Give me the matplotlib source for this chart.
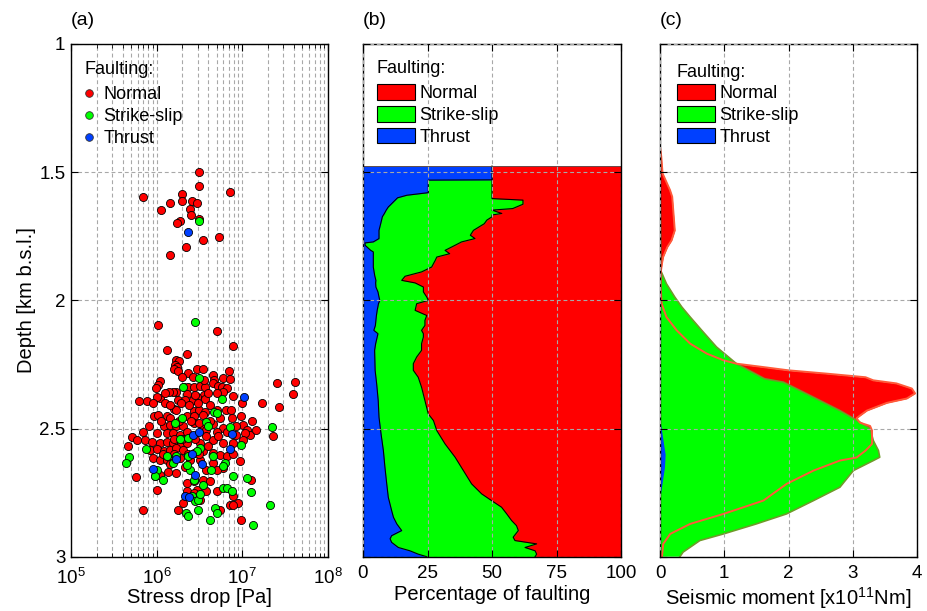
import numpy as np
import matplotlib
matplotlib.use("Agg")
import matplotlib.pyplot as plt
from matplotlib.lines import Line2D
from matplotlib.patches import Patch
from matplotlib.ticker import LogLocator, NullFormatter

plt.rcParams['font.family'] = ['Liberation Sans', 'DejaVu Sans']
plt.rcParams['mathtext.fontset'] = 'custom'
plt.rcParams['mathtext.rm'] = 'Liberation Sans'
plt.rcParams['mathtext.it'] = 'Liberation Sans'

RED = '#ff0000'
GREEN = '#00ff00'
BLUE = '#0040ff'

# ---------------- Panel (a): stress drop (log10 Pa) vs depth (km) ----------------
normal_logsd = [6.50, 6.50, 6.86, 5.84, 6.29, 6.29, 6.16, 6.41, 6.47, 6.05, 6.39, 6.40, 6.50, 6.27, 6.24,
                6.16, 6.34, 6.54, 6.73,
                6.01, 6.70, 6.89, 6.12, 6.35, 6.22, 6.26, 6.21, 6.24, 6.20, 6.25, 6.36, 6.47, 6.54, 6.66,
                6.67, 6.78, 6.84, 6.86, 6.04, 6.01, 5.99, 6.32, 6.37, 6.44, 6.51, 6.57, 6.66, 6.72, 6.76,
                6.82, 6.89, 6.78, 6.70, 6.55, 6.47, 6.35, 6.23, 6.19, 6.14, 6.04, 6.00, 5.89, 5.96, 5.79,
                6.25, 6.33, 6.42, 6.57, 7.00, 7.23, 7.40, 7.61, 7.59, 7.43, 6.20, 6.23, 6.44, 6.49, 6.57,
                6.70, 6.81, 6.87, 5.97, 6.02, 6.12, 6.16, 6.35, 6.43, 6.54, 6.74, 6.88, 6.99, 7.11, 7.01,
                7.05, 7.09, 7.16, 5.91, 6.08, 6.16, 6.23, 6.31, 6.43, 6.54, 6.66, 6.78, 6.93, 7.03, 5.84,
                6.00, 6.12, 6.19, 6.27, 6.35, 6.58, 6.70, 6.82, 6.93, 7.36, 5.71, 5.77, 5.67, 5.86, 5.94,
                6.04, 6.12, 6.19, 6.27, 6.35, 6.51, 6.66, 6.78, 6.89, 7.01, 5.92, 6.00, 6.08, 6.16, 6.23,
                6.31, 6.43, 6.54, 6.66, 6.74, 6.82, 6.89, 6.97, 5.96, 6.04, 6.12, 6.27, 6.39, 6.51, 6.66,
                6.78, 5.76, 5.98, 6.04, 6.13, 6.23, 6.35, 6.43, 6.54, 6.62, 6.00, 6.35, 6.47, 6.58, 6.70,
                6.89, 6.95, 6.86, 5.84, 6.25, 6.74, 7.10, 6.99, 6.43, 6.51,
                6.10, 6.15, 6.28, 6.38, 6.48, 6.62, 6.05, 6.26, 6.40, 6.50, 6.62, 6.20, 6.30, 6.45, 6.58,
                6.72, 6.07, 6.20, 6.36, 6.50, 6.60, 6.15, 6.33, 6.58, 6.70, 6.31, 6.89, 6.45, 6.60, 6.10,
                6.30, 6.42, 6.55]
normal_depth = [1.500, 1.552, 1.577, 1.596, 1.585, 1.613, 1.621, 1.612, 1.621, 1.648, 1.645, 1.668, 1.681, 1.690, 1.700,
                1.824, 1.793, 1.766, 1.754,
                2.098, 2.119, 2.177, 2.192, 2.210, 2.233, 2.236, 2.253, 2.259, 2.268, 2.276, 2.285, 2.269, 2.269, 2.291,
                2.311, 2.301, 2.275, 2.306, 2.315, 2.330, 2.343, 2.337, 2.339, 2.337, 2.334, 2.339, 2.324, 2.334, 2.339,
                2.343, 2.373, 2.356, 2.363, 2.369, 2.376, 2.365, 2.356, 2.356, 2.358, 2.382, 2.376, 2.391, 2.399, 2.392,
                2.389, 2.389, 2.389, 2.386, 2.402, 2.402, 2.324, 2.320, 2.367, 2.417, 2.422, 2.427, 2.430, 2.427, 2.434,
                2.427, 2.427, 2.427, 2.451, 2.447, 2.453, 2.460, 2.453, 2.453, 2.447, 2.460, 2.460, 2.453, 2.469, 2.486,
                2.505, 2.525, 2.505, 2.492, 2.492, 2.486, 2.492, 2.492, 2.479, 2.492, 2.482, 2.499, 2.492, 2.518, 2.512,
                2.518, 2.518, 2.518, 2.525, 2.512, 2.505, 2.512, 2.512, 2.525, 2.528, 2.534, 2.544, 2.570, 2.544, 2.551,
                2.557, 2.551, 2.557, 2.570, 2.557, 2.557, 2.544, 2.557, 2.557, 2.544, 2.583, 2.580, 2.589, 2.583, 2.576,
                2.583, 2.596, 2.589, 2.596, 2.602, 2.609, 2.598, 2.628, 2.615, 2.622, 2.622, 2.615, 2.622, 2.622, 2.635,
                2.654, 2.689, 2.687, 2.680, 2.671, 2.674, 2.712, 2.706, 2.699, 2.706, 2.738, 2.745, 2.738, 2.745, 2.745,
                2.764, 2.790, 2.797, 2.819, 2.819, 2.819, 2.702, 2.855, 2.751, 2.777,
                2.400, 2.410, 2.400, 2.410, 2.400, 2.410, 2.470, 2.470, 2.470, 2.480, 2.470, 2.540, 2.540, 2.540, 2.530,
                2.530, 2.600, 2.600, 2.600, 2.600, 2.570, 2.640, 2.650, 2.660, 2.660, 2.790, 2.800, 2.370, 2.360, 2.360,
                2.300, 2.300, 2.310]

strike_logsd = [6.50, 6.45, 6.50, 6.31, 6.76, 6.67, 6.70, 6.29, 6.21, 6.58, 6.60, 6.86, 7.35, 6.99, 6.37,
                6.27, 6.51, 6.47, 6.23, 6.37, 6.66, 6.80, 5.88, 5.68, 5.64, 6.00, 5.98, 6.07, 6.39, 6.43,
                6.54, 6.64, 6.78, 6.89, 6.78, 6.82, 6.88, 7.10, 7.32, 7.13, 6.34, 6.36, 6.48, 6.62, 6.68,
                6.70, 6.41, 6.45, 6.48, 6.51, 6.19, 6.12, 6.35, 7.05]
strike_depth = [1.691, 2.084, 2.301, 2.339, 2.385, 2.434, 2.440, 2.460, 2.477, 2.473, 2.492, 2.494, 2.496, 2.565, 2.538,
                2.541, 2.576, 2.589, 2.609, 2.609, 2.609, 2.635, 2.579, 2.611, 2.635, 2.661, 2.684, 2.699, 2.661, 2.699,
                2.719, 2.661, 2.648, 2.687, 2.732, 2.732, 2.745, 2.747, 2.797, 2.876, 2.829, 2.842, 2.819, 2.856, 2.810,
                2.829, 2.762, 2.784, 2.777, 2.755, 2.635, 2.609, 2.641, 2.693]

thrust_logsd = [6.37, 7.02, 6.42, 6.49, 6.88, 6.86, 6.41, 6.53, 6.22, 5.96, 6.45, 6.33, 6.38]
thrust_depth = [1.734, 2.378, 2.525, 2.514, 2.522, 2.579, 2.598, 2.639, 2.619, 2.658, 2.680, 2.764, 2.767]

# ---------------- Panel (b): percentage of faulting vs depth ----------------
# thrust percentage boundary
thr_depth = [1.477, 1.530, 1.531, 1.580, 1.590, 1.600, 1.636, 1.648, 1.661, 1.674, 1.687, 1.727, 1.759, 1.772,
             1.776, 1.785, 1.805, 1.811, 1.844, 1.870, 1.889, 1.906, 1.922, 1.932, 1.948, 1.967, 1.987, 2.000,
             2.013, 2.039, 2.059, 2.078, 2.098, 2.117, 2.130, 2.143, 2.169, 2.195, 2.273, 2.326, 2.391, 2.456,
             2.521, 2.586, 2.651, 2.716, 2.768, 2.820, 2.846, 2.872, 2.898, 2.918, 2.930, 2.944, 2.964, 2.977,
             2.990, 3.000]
thr_pct = [50.0, 50.0, 25.3, 25.3, 17.0, 13.4, 9.8, 9.0, 8.3, 7.5, 7.2, 6.2, 6.2, 4.0,
           0.8, 0.8, 3.0, 4.0, 4.0, 4.0, 4.3, 4.6, 5.0, 4.9, 5.0, 5.8, 6.2, 6.5,
           6.0, 5.5, 5.2, 5.0, 4.8, 4.2, 5.8, 5.5, 4.9, 4.5, 4.7, 5.3, 5.9, 6.2,
           7.0, 7.9, 8.5, 9.2, 9.8, 11.1, 11.8, 13.1, 15.0, 11.1, 10.5, 11.1, 13.7, 18.2,
           21.4, 24.7]
# thrust + strike-slip percentage boundary
cum_depth = [1.477, 1.603, 1.609, 1.625, 1.642, 1.648, 1.661, 1.667, 1.674, 1.687, 1.701, 1.727, 1.746, 1.759,
             1.772, 1.785, 1.805, 1.818, 1.831, 1.844, 1.870, 1.889, 1.906, 1.922, 1.932, 1.948, 1.967, 1.987,
             2.000, 2.013, 2.039, 2.059, 2.078, 2.098, 2.117, 2.130, 2.143, 2.169, 2.195, 2.221, 2.247, 2.273,
             2.300, 2.339, 2.391, 2.443, 2.469, 2.508, 2.560, 2.612, 2.664, 2.716, 2.755, 2.781, 2.807, 2.833,
             2.859, 2.879, 2.898, 2.924, 2.937, 2.950, 2.964, 2.977, 2.990, 3.000]
cum_pct = [50.0, 50.0, 62.0, 62.0, 58.0, 50.0, 53.8, 50.0, 50.0, 48.0, 47.0, 42.8, 41.6, 43.4,
           38.2, 35.7, 31.8, 33.6, 28.6, 28.0, 26.6, 22.7, 16.3, 15.0, 20.2, 23.4, 23.4, 24.7,
           25.3, 20.8, 20.2, 24.7, 24.0, 24.0, 22.7, 23.4, 23.4, 22.7, 22.7, 20.8, 19.5, 19.5,
           21.4, 22.7, 24.0, 25.3, 27.3, 28.6, 31.8, 35.7, 38.9, 42.1, 46.0, 49.8, 53.7, 55.7,
           57.6, 59.5, 60.2, 58.2, 58.9, 67.3, 62.8, 66.7, 67.3, 66.7]

# ---------------- Panel (c): seismic moment (x1e11 Nm) vs depth ----------------
mo_normal_depth = [1.400, 1.440, 1.505, 1.570, 1.596, 1.661, 1.727, 1.766, 1.792, 1.830, 1.857, 1.883, 1.950,
                   2.013, 2.065, 2.117, 2.169, 2.208, 2.234, 2.247, 2.260, 2.273, 2.286, 2.300, 2.312, 2.324,
                   2.344, 2.363, 2.383, 2.400, 2.430, 2.450, 2.460, 2.477, 2.490, 2.508, 2.560, 2.586, 2.613,
                   2.625, 2.664, 2.716, 2.781, 2.833, 2.872, 2.911, 2.950, 3.000]
mo_normal = [0.0, 0.02, 0.04, 0.156, 0.19, 0.21, 0.23, 0.18, 0.114, 0.05, 0.03, 0.016, 0.01,
             0.026, 0.10, 0.26, 0.47, 0.73, 0.99, 1.19, 1.60, 2.00, 2.60, 3.20, 3.32, 3.68,
             3.92, 3.97, 3.84, 3.53, 3.22, 3.11, 3.06, 3.11, 3.27, 3.30, 3.30, 3.20, 3.06,
             2.80, 2.39, 1.97, 1.61, 0.99, 0.47, 0.16, 0.05, 0.03]
mo_strike_depth = [1.480, 1.883, 1.935, 1.987, 2.026, 2.065, 2.117, 2.182, 2.247, 2.306, 2.319, 2.378, 2.430,
                   2.475, 2.500, 2.547, 2.586, 2.612, 2.625, 2.664, 2.729, 2.781, 2.833, 2.872, 2.911, 2.937,
                   2.982, 3.000]
mo_strike = [0.0, 0.01, 0.10, 0.23, 0.34, 0.47, 0.65, 0.88, 1.19, 1.63, 1.92, 2.39, 2.80,
             3.11, 3.27, 3.32, 3.40, 3.42, 3.32, 3.01, 2.80, 2.39, 1.97, 1.50, 0.99, 0.62,
             0.36, 0.31]
mo_thrust_depth = [2.47, 2.50, 2.55, 2.60, 2.65, 2.70, 2.75, 2.78]
mo_thrust = [0.0, 0.02, 0.05, 0.08, 0.07, 0.04, 0.01, 0.0]

categories = ['Normal', 'Strike-slip', 'Thrust']
depth_ticks = [1, 1.5, 2, 2.5, 3]
depth_ticklabels = ['1', '1.5', '2', '2.5', '3']
pct_ticks = [0, 25, 50, 75, 100]
mo_ticks = [0, 1, 2, 3, 4]

# ---------------- Figure ----------------
W, H = 927, 611
fig = plt.figure(figsize=(W / 100, H / 100), dpi=100)

def frac(l, r):
    return [l / W, (H - 556.7) / H, (r - l) / W, (556.7 - 44) / H]

axa = fig.add_axes(frac(71, 328))
axb = fig.add_axes(frac(363, 621))
axc = fig.add_axes(frac(660, 917))

FS_TICK = 13.5
FS_LAB = 14.5
FS_LEG = 13
grid_kw = dict(color='#a8a8a8', linestyle=(0, (3.5, 2.5)), linewidth=0.8)

for ax in (axa, axb, axc):
    ax.set_ylim(3, 1)
    ax.set_yticks(depth_ticks)
    ax.tick_params(direction='in', length=5, width=0.8, top=True, right=True,
                   labelsize=FS_TICK, pad=6)
    for s in ax.spines.values():
        s.set_linewidth(1.0)
    ax.yaxis.grid(True, **grid_kw)
    ax.xaxis.grid(True, **grid_kw)

# Panel (a)
axa.set_xscale('log')
axa.set_xlim(1e5, 1e8)
axa.xaxis.set_major_locator(LogLocator(base=10, numticks=10))
axa.xaxis.set_minor_locator(LogLocator(base=10, subs=np.arange(2, 10), numticks=20))
axa.xaxis.set_minor_formatter(NullFormatter())
axa.tick_params(which='minor', direction='in', length=3, width=0.6, top=True)
axa.grid(True, which='minor', axis='x', **grid_kw)
axa.set_axisbelow(True)
axa.set_yticklabels(depth_ticklabels)
axa.tick_params(axis='y', pad=4)
axa.tick_params(axis='x', pad=8)

sc_kw = dict(s=34, edgecolors='k', linewidths=0.6, zorder=3)
axa.scatter(10 ** np.array(normal_logsd), normal_depth, c=RED, **sc_kw)
axa.scatter(10 ** np.array(strike_logsd), strike_depth, c=GREEN, **sc_kw)
axa.scatter(10 ** np.array(thrust_logsd), thrust_depth, c=BLUE, **sc_kw)
axa.set_xlabel('Stress drop [Pa]', fontsize=FS_LAB, labelpad=0)
axa.set_ylabel('Depth [km b.s.l.]', fontsize=FS_LAB, labelpad=2)

leg_kw = dict(loc='upper left', frameon=False, fontsize=FS_LEG, borderpad=0, borderaxespad=0)

ha = [Line2D([], [], marker='o', linestyle='none', markersize=5.5, markerfacecolor=c,
             markeredgecolor='#333333', markeredgewidth=0.6) for c in (RED, GREEN, BLUE)]
axa.legend(ha, categories, bbox_to_anchor=(0.052, 0.918), handlelength=0.5,
           handletextpad=0.55, labelspacing=0.28, **leg_kw)
axa.text(0.054, 0.951, 'Faulting:', transform=axa.transAxes, fontsize=FS_LEG,
         ha='left', va='center')

# Panel (b)
axb.set_xlim(0, 100)
axb.set_xticks(pct_ticks)
axb.set_yticklabels([])
top_b = min(thr_depth[0], cum_depth[0])
bot_b = max(thr_depth[-1], cum_depth[-1])
axb.fill_betweenx([top_b, bot_b], 0, 100, color=RED, linewidth=0, zorder=1)
axb.fill_betweenx(cum_depth, 0, cum_pct, color=GREEN, linewidth=0, zorder=1.1)
axb.plot(cum_pct, cum_depth, color='k', linewidth=0.8, zorder=1.2)
axb.fill_betweenx(thr_depth, 0, thr_pct, color=BLUE, linewidth=0, zorder=1.3)
axb.plot(thr_pct, thr_depth, color='k', linewidth=0.8, zorder=1.4)
axb.plot([0, 100], [top_b, top_b], color='#555555', linewidth=0.6, zorder=1.4)
axb.set_axisbelow(False)
axb.set_xlabel('Percentage of faulting', fontsize=FS_LAB, labelpad=2)

hb = [Patch(facecolor=c, edgecolor='k', linewidth=0.8) for c in (RED, GREEN, BLUE)]
patch_kw = dict(handlelength=2.1, handleheight=0.95, handletextpad=0.25, labelspacing=0.22)
axb.legend(hb, categories, bbox_to_anchor=(0.054, 0.922), **patch_kw, **leg_kw)
axb.text(0.054, 0.953, 'Faulting:', transform=axb.transAxes, fontsize=FS_LEG,
         ha='left', va='center')

# Panel (c)
axc.set_xlim(0, 4)
axc.set_xticks(mo_ticks)
axc.set_yticklabels([])
axc.fill_betweenx(mo_normal_depth, 0, mo_normal, color=RED, linewidth=0, zorder=1)
axc.fill_betweenx(mo_strike_depth, 0, mo_strike, facecolor=GREEN, edgecolor='none', zorder=1.1)
axc.plot(mo_strike, mo_strike_depth, color='#6f9a2a', linewidth=1.2, zorder=1.2)
axc.fill_betweenx(mo_thrust_depth, 0, mo_thrust, color=BLUE, linewidth=0, zorder=1.3)
axc.plot(mo_normal, mo_normal_depth, color='#ff5a3a', linewidth=1.4, zorder=1.4)
axc.set_axisbelow(False)
axc.set_xlabel('Seismic moment [x10$^{11}$Nm]', fontsize=FS_LAB, labelpad=2)

axc.legend(hb, categories, bbox_to_anchor=(0.066, 0.922), **patch_kw, **leg_kw)
axc.text(0.066, 0.945, 'Faulting:', transform=axc.transAxes, fontsize=FS_LEG,
         ha='left', va='center')

for ax, lab in ((axa, '(a)'), (axb, '(b)'), (axc, '(c)')):
    ax.text(0.0, 1.03, lab, transform=ax.transAxes, fontsize=14, ha='left', va='bottom')

fig.savefig('out.png', dpi=100)
